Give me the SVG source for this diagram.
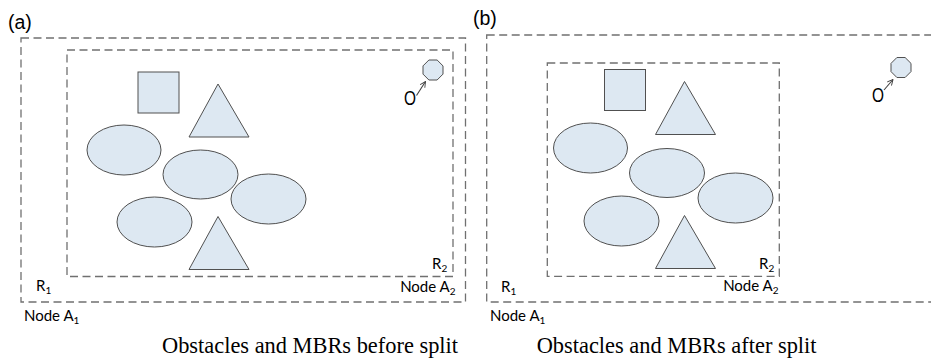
<svg xmlns="http://www.w3.org/2000/svg" width="931" height="360" viewBox="0 0 931 360">
<style>
.mbr{fill:none;stroke:#707070;stroke-width:1.3;stroke-dasharray:8 4.5}
.ob{fill:#dde8f2;stroke:#505050;stroke-width:1}
.lbl{font-family:"Lato","Liberation Sans",sans-serif;font-size:15px;fill:#000}
.sub{font-size:10px}
.tag{font-family:"Liberation Sans",Arial,sans-serif;font-size:19.5px;fill:#000}
.cap{font-family:"Liberation Serif","Times New Roman",serif;font-size:22.4px;fill:#000}
.conn{stroke:#404040;stroke-width:1.1;fill:none}
</style>
<defs>
<marker id="arr" viewBox="0 0 10 10" refX="9" refY="5" markerWidth="7" markerHeight="7" orient="auto" markerUnits="userSpaceOnUse">
<polyline points="1,1 9,5 1,9" fill="none" stroke="#404040" stroke-width="1.3"/>
</marker>
</defs>
<rect width="931" height="360" fill="#fff"/>

<!-- Panel (a) -->
<text class="tag" x="8" y="29">(a)</text>
<g id="a-R1"><rect class="mbr" x="21" y="38" width="444.5" height="264"/></g>
<g id="a-R2"><rect class="mbr" x="67" y="50" width="386" height="226.5"/></g>
<g id="a-square"><rect class="ob" x="138" y="72" width="41" height="41"/></g>
<g id="a-tri1"><polygon class="ob" points="218,84 189,137 249,137"/></g>
<g id="a-ell1"><ellipse class="ob" cx="124" cy="150" rx="37" ry="25"/></g>
<g id="a-ell2"><ellipse class="ob" cx="200.5" cy="174.5" rx="37.5" ry="24.5"/></g>
<g id="a-ell3"><ellipse class="ob" cx="268.5" cy="199" rx="37.5" ry="25"/></g>
<g id="a-ell4"><ellipse class="ob" cx="154.5" cy="222" rx="37.5" ry="25"/></g>
<g id="a-tri2"><polygon class="ob" points="218,216.5 189,269.5 249,269.5"/></g>
<g id="a-oct"><polygon class="ob" points="428.9,60 437.1,60 443,65.9 443,74.1 437.1,80 428.9,80 423,74.1 423,65.9"/></g>
<g id="a-O"><text class="tag" x="404" y="104.5" font-size="18" textLength="12" lengthAdjust="spacingAndGlyphs">O</text></g>
<text class="lbl" x="432" y="268.5">R<tspan class="sub" dy="3">2</tspan></text>
<text class="lbl" x="455.5" y="291.5" text-anchor="end">Node A<tspan class="sub" dy="3">2</tspan></text>
<text class="lbl" x="36" y="291">R<tspan class="sub" dy="3">1</tspan></text>
<text class="lbl" x="24" y="320.5">Node A<tspan class="sub" dy="3">1</tspan></text>
<text class="cap" x="162" y="353">Obstacles and MBRs before split</text>

<!-- Panel (b) -->
<text class="tag" x="473" y="25">(b)</text>
<g id="b-R1"><rect class="mbr" x="486.7" y="35" width="460" height="267"/></g>
<g id="b-R2"><rect class="mbr" x="547.3" y="63" width="232" height="213.3"/></g>
<g id="b-square"><rect class="ob" x="604.5" y="69.5" width="41" height="41"/></g>
<g id="b-tri1"><polygon class="ob" points="684.5,81.5 655.5,134.5 715.5,134.5"/></g>
<g id="b-ell1"><ellipse class="ob" cx="590.5" cy="148" rx="37" ry="25"/></g>
<g id="b-ell2"><ellipse class="ob" cx="667" cy="173" rx="37.5" ry="24.5"/></g>
<g id="b-ell3"><ellipse class="ob" cx="735.5" cy="198" rx="37.5" ry="25"/></g>
<g id="b-ell4"><ellipse class="ob" cx="621.5" cy="221" rx="37.5" ry="25"/></g>
<g id="b-tri2"><polygon class="ob" points="684.5,215.5 655.5,268.5 715.5,268.5"/></g>
<g id="b-oct"><polygon class="ob" points="896.9,57.5 905.1,57.5 911,63.4 911,71.6 905.1,77.5 896.9,77.5 891,71.6 891,63.4"/></g>
<g id="b-O"><text class="tag" x="872" y="101.5" font-size="18" textLength="12" lengthAdjust="spacingAndGlyphs">O</text></g>
<text class="lbl" x="759" y="268.5">R<tspan class="sub" dy="3">2</tspan></text>
<text class="lbl" x="778.5" y="291" text-anchor="end">Node A<tspan class="sub" dy="3">2</tspan></text>
<text class="lbl" x="501" y="292">R<tspan class="sub" dy="3">1</tspan></text>
<text class="lbl" x="490" y="320.5">Node A<tspan class="sub" dy="3">1</tspan></text>
<text class="cap" x="536.7" y="353">Obstacles and MBRs after split</text>

<g id="connectors">
<line class="conn" x1="416.5" y1="95.5" x2="425.5" y2="81.5" marker-end="url(#arr)"/>
<line class="conn" x1="884" y1="90" x2="893" y2="79.5" marker-end="url(#arr)"/>
</g>
</svg>
